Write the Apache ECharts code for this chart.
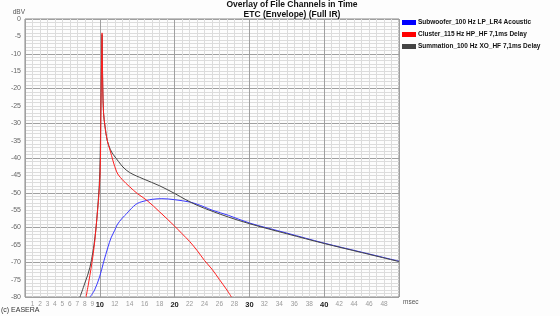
<!DOCTYPE html>
<html><head><meta charset="utf-8">
<script src="https://cdn.jsdelivr.net/npm/echarts@6/dist/echarts.min.js"></script>
<style>html,body{margin:0;padding:0;background:#fff}#c{width:560px;height:316px}</style>
</head><body><div id="c"></div>
<script>
const seriesNames = ['Subwoofer_100 Hz LP_LR4 Acoustic','Cluster_115 Hz HP_HF 7,1ms Delay','Summation_100 Hz XO_HF 7,1ms Delay'];
const subX = [8.69,9.3,10,10.5,11.1,11.5,12.0,12.3,13,13.6,14,15,16.3,17,18.3,20,22.1,23,24,25,27.2,30,35,40,45,50];
const subY = [-80,-78,-74,-70,-65.6,-63,-60.8,-59.3,-57.3,-56,-55,-53.1,-52.2,-51.9,-51.7,-52.0,-52.7,-53.3,-54.1,-55,-56.5,-58.7,-61.6,-64.5,-67.1,-69.7];
const cluX = [8.16,8.5,9.13,9.5,10.03,10.15,10.25,10.3,10.35,10.4,10.5,10.7,11.0,11.36,12.26,13,14,15,16.3,18,20,21,22,23,24,25,26,27,27.6];
const cluY = [-80,-76,-67.5,-60,-45,-25,-10,-4,-12,-20,-27,-31,-35,-37.7,-44,-46.2,-48.3,-50.2,-52.2,-55.5,-59.6,-61.8,-64,-66.6,-69.5,-72,-75,-78,-80];
const sumX = [7.35,8,8.69,9.36,9.8,10.0,10.15,10.25,10.3,10.35,10.4,10.5,10.7,11.0,11.4,11.8,12.5,13.1,14,15.8,18,20,21.5,23,25,27.2,30,35,40,45,50];
const sumY = [-80,-76,-71.4,-62.7,-52,-44,-25,-10,-4.5,-12,-20,-27,-31,-35,-37.5,-39,-41,-42.6,-44.2,-46,-48,-50.2,-52,-53.6,-55.3,-57,-58.9,-61.8,-64.6,-67.2,-69.8];
const xLabelValues = [1,2,3,4,5,6,7,8,9,10,12,14,16,18,20,22,24,26,28,30,32,34,36,38,40,42,44,46,48];
const xBoldLabels = [10,20,30,40];
const titleLines = ['Overlay of File Channels in Time','ETC (Envelope) (Full IR)'];
const colors = ['#3a3aff','#ff2020','#444444'];

const pairs = (xs, ys) => xs.map((x, i) => [x, ys[i]]);
const chart = echarts.init(document.getElementById('c'), null, {renderer: 'canvas'});
const F = 'Liberation Sans, Arial, sans-serif';
chart.setOption({
  animation: false,
  backgroundColor: '#fdfdfd',
  title: [
    {text: titleLines[0], left: 292, top: 0, padding: 0, textAlign: 'center', textStyle: {fontFamily: F, fontSize: 8.5, fontWeight: 'bold', color: '#111'}},
    {text: titleLines[1], left: 292, top: 10, padding: 0, textAlign: 'center', textStyle: {fontFamily: F, fontSize: 8.5, fontWeight: 'bold', color: '#111'}},
    {text: '(c) EASERA', left: 1, top: 307, padding: 0, textStyle: {fontFamily: F, fontSize: 7, fontWeight: 'normal', color: '#333'}}
  ],
  graphic: [
    {type: 'text', left: 403, top: 299, style: {text: 'msec', fontFamily: F, fontSize: 6.5, fill: '#555'}}
  ],
  legend: {
    orient: 'vertical', left: 402, top: 19, padding: 0, itemWidth: 14, itemHeight: 5, itemGap: 5,
    icon: 'rect',
    data: seriesNames,
    textStyle: {fontFamily: F, fontSize: 6.5, fontWeight: 'bold', color: '#111', padding: [0,0,0,-3]}
  },
  grid: {left: 25, right: 161, top: 19, bottom: 19, show: true, borderColor: '#888', borderWidth: 1, backgroundColor: 'transparent'},
  xAxis: [
    {type: 'value', min: 0, max: 50, interval: 10, position: 'bottom',
     axisLine: {show: false}, axisTick: {show: false}, axisLabel: {show: false},
     splitLine: {show: true, lineStyle: {color: '#a0a0a0', width: 1}},
     minorTick: {show: false, splitNumber: 10},
     minorSplitLine: {show: true, lineStyle: {color: '#dcdcdc', width: 1}}},
    {type: 'value', min: 0, max: 50, interval: 1, position: 'bottom',
     axisLine: {show: false}, axisTick: {show: false}, splitLine: {show: false},
     axisLabel: {show: true, margin: 4, fontFamily: F, fontSize: 6.5, color: '#9a9a9a',
       formatter: v => {
         if (xBoldLabels.includes(v)) return '{b|' + v + '}';
         return xLabelValues.includes(v) ? String(v) : '';
       },
       rich: {b: {fontFamily: F, fontSize: 7.5, fontWeight: 'bold', color: '#222'}}}}
  ],
  yAxis: [
    {type: 'value', min: -80, max: 0, interval: 10, position: 'left',
     axisLine: {show: false}, axisTick: {show: false}, axisLabel: {show: false},
     splitLine: {show: true, lineStyle: {color: '#a0a0a0', width: 1}},
     minorSplitLine: {show: true, lineStyle: {color: '#dcdcdc', width: 1}},
     minorTick: {show: false, splitNumber: 10}},
    {type: 'value', min: -80, max: 0, interval: 5, position: 'left',
     axisLine: {show: false}, axisTick: {show: false}, splitLine: {show: false},
     name: 'dBV', nameLocation: 'end', nameGap: 2,
     nameTextStyle: {fontFamily: F, fontSize: 6.5, color: '#555', align: 'right', padding: [0,0,0,0]},
     axisLabel: {show: true, margin: 4, fontFamily: F, fontSize: 7, color: '#666'}}
  ],
  series: [
    {name: seriesNames[0], type: 'line', data: pairs(subX, subY), xAxisIndex: 0, yAxisIndex: 0,
     showSymbol: false, smooth: 0.35, lineStyle: {width: 1, color: colors[0]}, itemStyle: {color: '#0000ff'}, z: 3},
    {name: seriesNames[2], type: 'line', data: pairs(sumX, sumY), xAxisIndex: 0, yAxisIndex: 0,
     showSymbol: false, smooth: 0.35, lineStyle: {width: 1, color: colors[2]}, itemStyle: {color: '#444444'}, z: 4},
    {name: seriesNames[1], type: 'line', data: pairs(cluX, cluY), xAxisIndex: 0, yAxisIndex: 0,
     showSymbol: false, smooth: 0.35, lineStyle: {width: 1, color: colors[1]}, itemStyle: {color: '#ff0000'}, z: 5}
  ]
});
</script></body></html>
